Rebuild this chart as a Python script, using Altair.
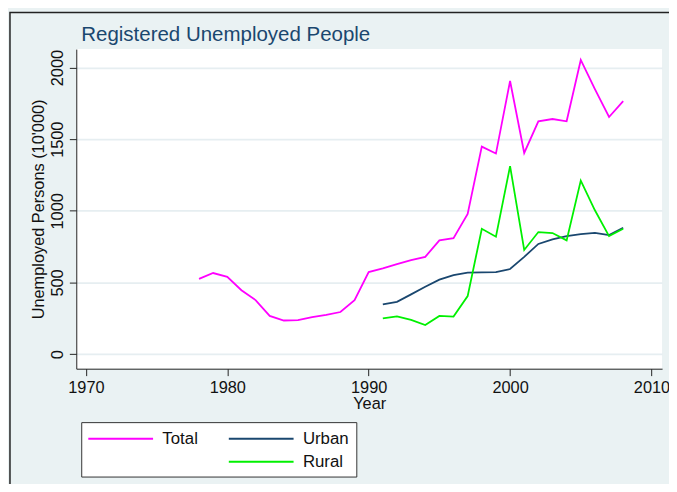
import altair as alt
import pandas as pd

# ---- data ----
years_total = list(range(1978, 2009))
total = [525, 566, 540, 446, 377, 267, 235, 237, 258, 274, 294, 377, 573,
         598, 628, 656, 679, 794, 810, 978, 1448, 1400, 1906, 1404, 1625,
         1641, 1625, 2053, 1849, 1655, 1766]

years_ur = list(range(1991, 2009))
urban = [348, 365, 417, 470, 520, 552, 569, 571, 573, 594, 679, 769, 801,
         824, 838, 847, 831, 882]
rural = [249, 263, 239, 203, 267, 262, 405, 875, 820, 1312, 727, 852, 845,
         794, 1211, 1004, 824, 875]

x_ticks = [1970, 1980, 1990, 2000, 2010]
y_ticks = [0, 500, 1000, 1500, 2000]

# legend is filled column by column: Total / (blank) | Urban / Rural
series_order = ["Total", " ", "Urban", "Rural"]
series_colors = ["#ff00ff", "rgba(0,0,0,0)", "#1a476f", "#00f000"]

rows = []
for y, v in zip(years_total, total):
    rows.append({"Year": y, "Value": v, "Series": "Total", "ord": 0})
for y, v in zip(years_ur, urban):
    rows.append({"Year": y, "Value": v, "Series": "Urban", "ord": 1})
for y, v in zip(years_ur, rural):
    rows.append({"Year": y, "Value": v, "Series": "Rural", "ord": 2})
df = pd.DataFrame(rows)

W, H = 592, 323
FONT = "Liberation Sans"

lines = alt.Chart(df).mark_line(strokeWidth=1.8, clip=True).encode(
    x=alt.X("Year:Q",
            scale=alt.Scale(domain=[1969.32, 2010.75], nice=False, zero=False),
            axis=alt.Axis(values=x_ticks, format="d", title="Year", grid=False,
                          tickSize=7, labelPadding=4, titlePadding=0,
                          labelFontSize=16.5, titleFontSize=16.5,
                          titleFontWeight="normal")),
    y=alt.Y("Value:Q",
            scale=alt.Scale(domain=[-101.5, 2129], nice=False, zero=False),
            axis=alt.Axis(values=y_ticks, format="d",
                          title="Unemployed Persons (10'000)",
                          grid=True, tickSize=7, labelAngle=270,
                          labelAlign="center", labelBaseline="bottom",
                          labelPadding=4, titlePadding=3,
                          labelFontSize=16.5, titleFontSize=16.5,
                          titleFontWeight="normal")),
    color=alt.Color("Series:N",
                    scale=alt.Scale(domain=series_order, range=series_colors),
                    legend=alt.Legend(title=None, orient="none", legendX=5,
                                      legendY=377, columns=2,
                                      symbolType="M-1.1,0H6.6", symbolSize=289,
                                      symbolStrokeWidth=2, labelFontSize=17,
                                      labelOffset=56, columnPadding=27,
                                      rowPadding=5.5, padding=7,
                                      fillColor="white", strokeColor="#333",
                                      labelColor="#111")),
    order=alt.Order("ord:Q"),
    detail="Series:N",
)

border = alt.Chart(alt.Data(values=[{"b": 1}])).mark_rect(
    fillOpacity=0, stroke="#222", strokeWidth=1.5
).encode(
    x=alt.value(-67), x2=alt.value(800), y=alt.value(-37), y2=alt.value(800)
)

chart = alt.layer(lines, border).properties(
    width=W, height=H,
    title=alt.TitleParams("Registered Unemployed People", anchor="start",
                          frame="group", dx=5, offset=-50.5,
                          baseline="alphabetic", fontSize=20.7,
                          fontWeight="normal", color="#1a476f", font=FONT),
    autosize=alt.AutoSizeParams(type="none"),
    padding={"left": 69, "top": 39, "right": 7, "bottom": 114},
    background="#eaf2f3",
).configure_view(
    fill="white", stroke=None
).configure_axis(
    labelFont=FONT, titleFont=FONT, labelColor="#111", titleColor="#111",
    domainColor="#222", tickColor="#222", domainWidth=1, tickWidth=1,
    gridColor="#e6eef1", gridWidth=1.6,
).configure_legend(
    labelFont=FONT
)

chart.save("out.html", embed_options={"renderer": "svg", "actions": False})
